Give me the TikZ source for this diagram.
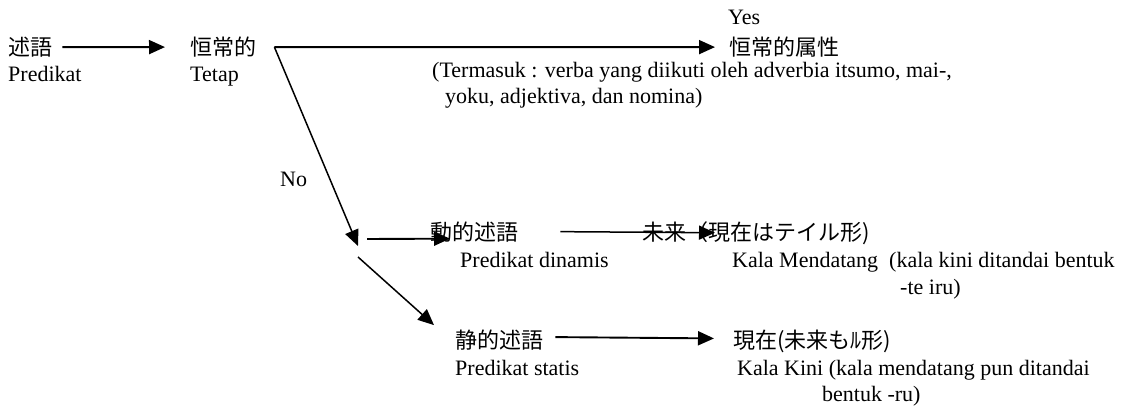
\documentclass[tikz,border=0pt]{standalone}
\usepackage{fontspec}
\setmainfont{Liberation Serif}
\newfontfamily\jp{Noto Sans CJK JP}
\usetikzlibrary{arrows.meta,positioning,calc}

\begin{document}
\begin{tikzpicture}[x=1pt,y=-1pt,
    txt/.style={anchor=base west,inner sep=0pt,font=\fontsize{22}{26}\selectfont},
    jtxt/.style={txt,font=\fontsize{22}{26}\selectfont\jp},
    arr/.style={-{Triangle[length=16pt,width=14pt]},line width=1.9pt},
    darr/.style={arr,line width=1.5pt}]
  \useasboundingbox (0,0) rectangle (1129,406);

  % predikat -> tetap
  \node[jtxt] (predJ) at (8,55.5) {述語};
  \node[txt] (predI) at (8,82) {Predikat};
  \node[jtxt] (tetapJ) at (190,55.5) {恒常的};
  \node[txt] (tetapI) at (190,82) {Tetap};
  \draw[arr] ([xshift=10pt]predJ.east) -- ([xshift=-25pt]tetapJ.west);

  % yes branch
  \coordinate (fork) at ([xshift=18pt]tetapJ.east);
  \node[txt] (yes) at (728,25) {Yes};
  \node[jtxt] (attrJ) at (729,55.5) {恒常的属性};
  \node[txt] (noteA) at (432,78) {(Termasuk : verba yang diikuti oleh adverbia itsumo, mai-,};
  \node[txt] (noteB) at (445,104) {yoku, adjektiva, dan nomina)};
  \draw[arr] (fork) -- ([xshift=-14pt]attrJ.west);

  % no branch
  \node[txt] (no) at (280,187) {No};
  \coordinate (noEnd) at (358,246);
  \draw[darr] (fork) -- (noEnd);

  % dinamis
  \node[jtxt] (dinJ) at (430,240) {動的述語};
  \node[txt] (dinI) at (460,267) {Predikat dinamis};
  \coordinate (dinStart) at (367,239);
  \draw[arr] (dinStart) -- ([shift={(20pt,-7pt)}]dinJ.west);
  \node[jtxt] (futJ) at (642,240) {未来（現在はテイル形)};
  \node[txt] (futI) at (732,267) {Kala Mendatang\ \ (kala kini ditandai bentuk};
  \node[txt] (futNote) at (900,294) {-te iru)};
  \draw[darr] ([xshift=42pt]dinJ.east) -- ([xshift=73pt]futJ.west);

  % statis
  \coordinate (staStart) at (358,257);
  \node[jtxt] (staJ) at (455,348.5) {静的述語};
  \node[txt] (staI) at (455,375) {Predikat statis};
  \draw[darr] (staStart) -- ([shift={(-21pt,15pt)}]staJ.west);
  \node[jtxt] (nowJ) at (733,348.5) {現在(未来もﾙ形)};
  \node[txt] (nowI) at (737,375) {Kala Kini (kala mendatang pun ditandai};
  \node[txt] (nowNote) at (822,401) {bentuk -ru)};
  \draw[arr] ([shift={(12pt,3pt)}]staJ.east) -- ([shift={(-19pt,3pt)}]nowJ.west);
\end{tikzpicture}
\end{document}
